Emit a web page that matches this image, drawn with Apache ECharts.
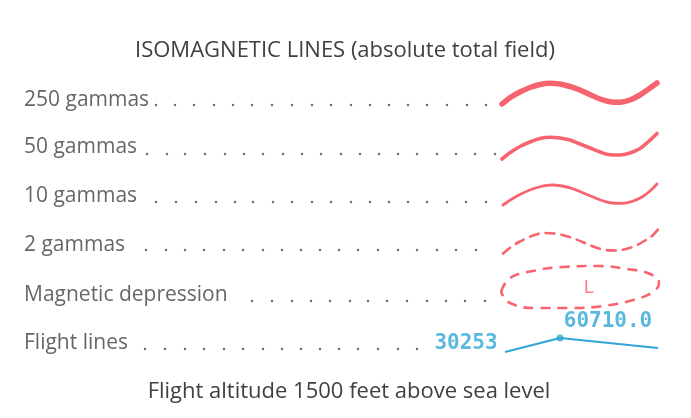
<!DOCTYPE html>
<html>
<head>
<meta charset="utf-8">
<script src="https://cdn.jsdelivr.net/npm/echarts@6/dist/echarts.min.js"></script>
<style>
html,body{margin:0;padding:0;background:#fff;}
#chart{width:691px;height:418px;}
</style>
</head>
<body>
<div id="chart"></div>
<script>
// ---- Data ----
const titleText = 'ISOMAGNETIC LINES (absolute total field)';
const footerText = 'Flight altitude 1500 feet above sea level';
const rowLabels = ['250 gammas', '50 gammas', '10 gammas', '2 gammas', 'Magnetic depression', 'Flight lines'];

// leader dots per row (x positions), row baseline of the dots
const dotsRow1 = [156,175,194,214,233,252,272,292,312,331,351,370,389,408,427,447,467,486];
const dotsRow2 = [147,167,185,205,225,244,263,283,302,321,341,360,379,398,417,437,456,475,495];
const dotsRow3 = [156,176,196,216,235,253,273,292,312,331,351,370,389,408,427,447,466,486];
const dotsRow4 = [146,166,185,204,224,243,263,282,301,320,339,358,378,398,417,437,456,476];
const dotsRow5 = [252,272,292,311,330,350,368,387,407,427,446,465,485];
const dotsRow6 = [145,165,185,204,224,243,263,282,301,320,339,358,378,398,417];
const dotsY = [105, 154, 202, 250, 301, 349];

// isomagnetic line samples
const line250 = [[502,104],[511,97],[520,92],[530,87.5],[540,84.5],[550,83.3],[560,84],[570,86.5],[580,90],[590,94.5],[600,99],[610,101.7],[620,102.3],[630,100],[640,95],[648,89.5],[657,83]];
const line50  = [[502,159],[511,152],[520,146.5],[530,142],[540,138.5],[550,137.3],[560,138],[570,140],[580,144],[590,148],[600,152],[610,154.8],[620,155],[630,153],[640,148.5],[648,142],[657,133.5]];
const line10  = [[503,205],[512,199],[521,194],[531,189.5],[541,186.5],[552,185],[562,186],[572,188.5],[582,192.5],[592,196.5],[602,200.5],[612,203],[622,203.3],[632,201.5],[642,197],[650,191],[657,184]];
const line2   = [[503,253.5],[511,247],[519,242],[528,237.5],[536,234.5],[544,233],[554,233.5],[564,235.5],[575,239],[585,243],[596,247.5],[606,250],[616,250.5],[626,249],[636,245.5],[646,240],[652,236],[658,229.5]];
const depression = [[501,292],[510,278],[533,271],[563,267],[597,266],[627,269],[650,274],[659,283],[653,292],[633,300],[603,306],[570,308],[537,308],[510,303],[501,292]];
const depressionMark = [[589,288,'L']];

// flight line
const flightLine = [[505,352],[560,338],[658,348]];
const fixPoint = [[560,338]];
const flightLabels = [[466,344,'30253'],[608,322,'60710.0']];

// ---- Style ----
const RED = '#f7636f';
const BLUE = '#30a6d6';
const TEXT = '#404040';
const FONT = '"Open Sans", "DejaVu Sans", sans-serif';

const chart = echarts.init(document.getElementById('chart'), null, {renderer: 'canvas'});

const dotRows = [dotsRow1, dotsRow2, dotsRow3, dotsRow4, dotsRow5, dotsRow6];
const dotData = [];
dotRows.forEach((row, i) => row.forEach(x => dotData.push([x, dotsY[i]])));

const labelRowY = [99, 146, 195, 244, 294, 342];
const labelData = rowLabels.map((t, i) => [24, labelRowY[i], t]);

function curve(data, width, dashed) {
  return {
    type: 'line', data: data, smooth: 0.35, symbol: 'none', silent: true,
    lineStyle: {color: RED, width: width, type: dashed ? [9, 7] : 'solid', cap: 'round'},
    z: 3
  };
}

chart.setOption({
  animation: false,
  backgroundColor: '#fff',
  grid: {left: 0, right: 0, top: 0, bottom: 0},
  xAxis: {type: 'value', min: 0, max: 691, show: false},
  yAxis: {type: 'value', min: 0, max: 418, inverse: true, show: false},
  title: [
    {text: titleText, left: 340, top: 35, textAlign: 'center',
     textStyle: {fontFamily: FONT, fontSize: 22, fontWeight: 'normal', color: TEXT}},
    {text: footerText, left: 344, top: 376, textAlign: 'center',
     textStyle: {fontFamily: FONT, fontSize: 22, fontWeight: 'normal', color: TEXT}}
  ],
  series: [
    {
      type: 'scatter', data: labelData, symbolSize: 0, silent: true,
      label: {show: true, position: 'right', distance: 0, formatter: p => p.data[2],
        fontFamily: FONT, fontSize: 21, color: TEXT, offset: [0, 1]}
    },
    {
      type: 'scatter', data: dotData, symbol: 'circle', symbolSize: 2.5, silent: true,
      itemStyle: {color: '#4a4a4a'}
    },
    curve(line250, 5.5, false),
    curve(line50, 3.6, false),
    curve(line10, 2.8, false),
    curve(line2, 2.6, true),
    {
      type: 'line', data: depression, smooth: 0.45, symbol: 'none', silent: true,
      lineStyle: {color: RED, width: 2.6, type: [10, 7]}
    },
    {
      type: 'scatter', data: depressionMark, symbolSize: 0, silent: true,
      label: {show: true, position: 'inside', formatter: p => p.data[2],
        fontFamily: '"DejaVu Sans Mono", monospace', fontSize: 18, color: RED}
    },
    {
      type: 'line', data: flightLine, smooth: false, symbol: 'none', silent: true,
      lineStyle: {color: BLUE, width: 2}
    },
    {
      type: 'scatter', data: fixPoint, symbol: 'circle', symbolSize: 7, silent: true,
      itemStyle: {color: BLUE}
    },
    {
      type: 'scatter', data: flightLabels, symbolSize: 0, silent: true,
      label: {show: true, position: 'inside', formatter: p => p.data[2],
        fontFamily: '"DejaVu Sans Mono", monospace', fontWeight: 'bold', fontSize: 21, color: BLUE}
    }
  ]
});
</script>
</body>
</html>
